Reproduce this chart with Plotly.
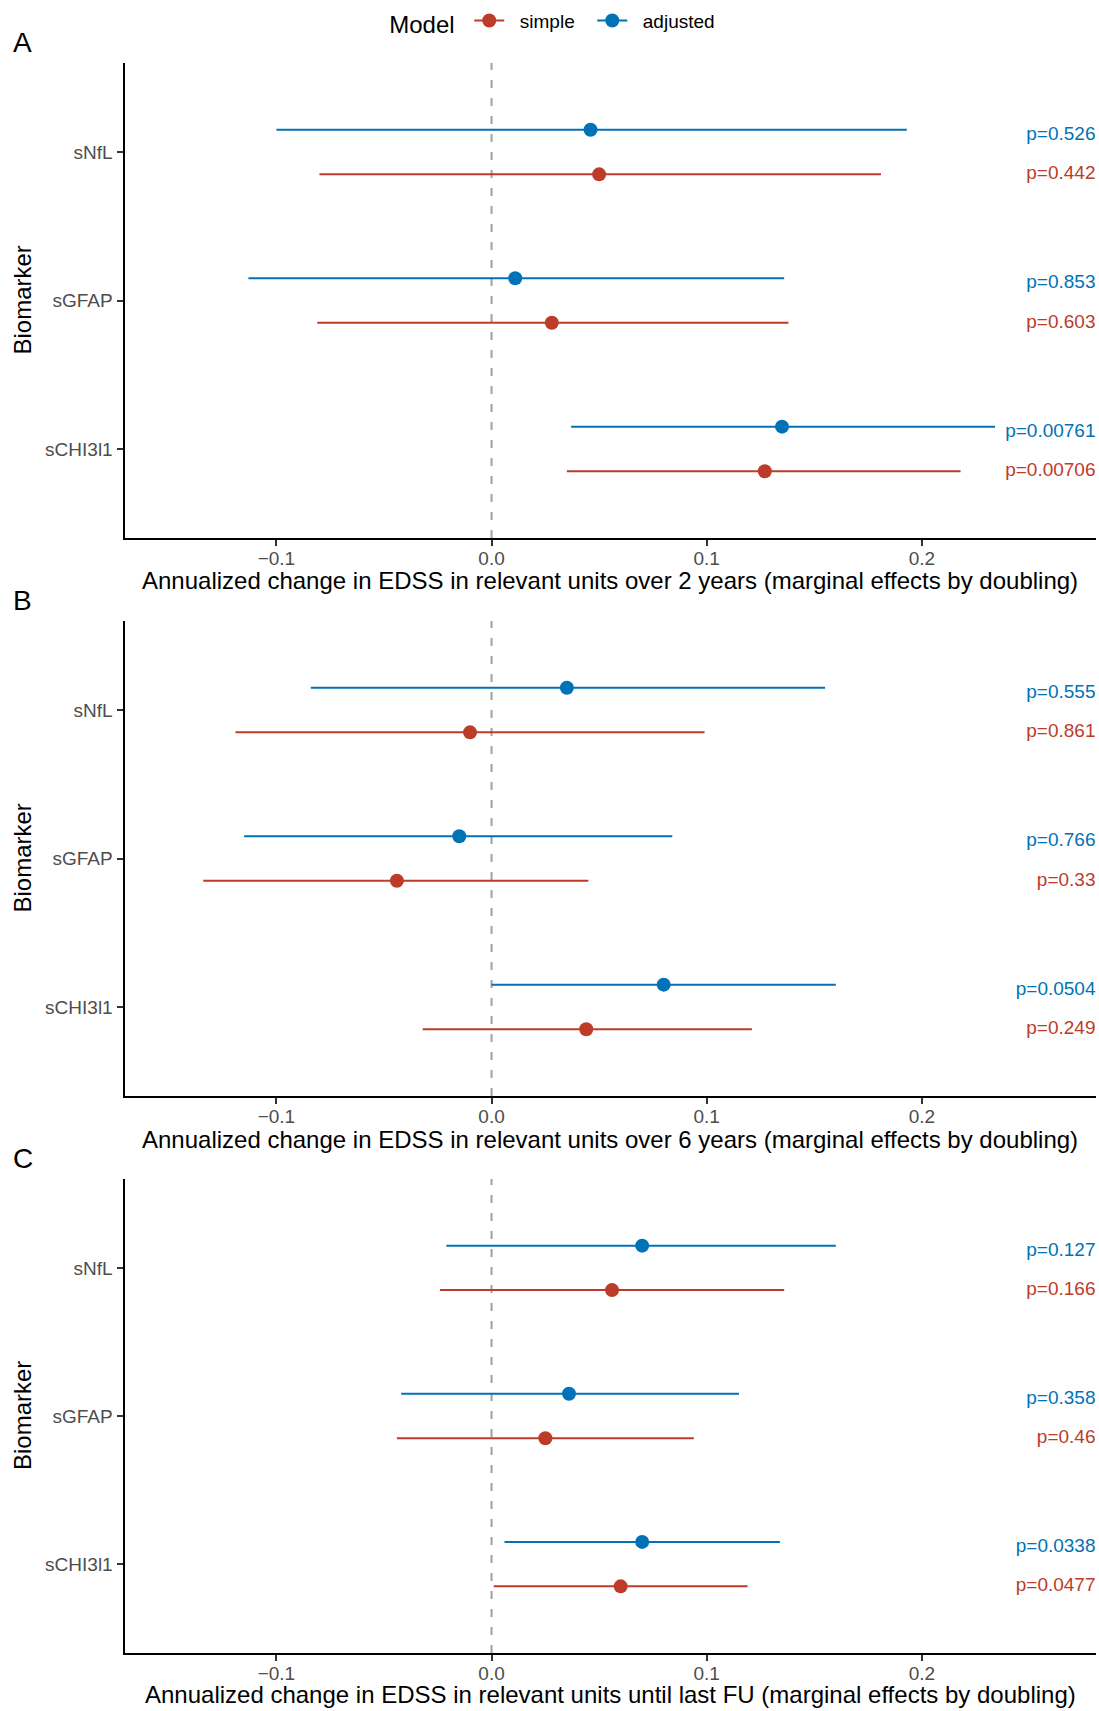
import plotly.graph_objects as go

# ---------------- data ----------------
biomarkers = ["sNfL", "sGFAP", "sCHI3l1"]

# Panel A: over 2 years
A_simple_est = [0.050, 0.028, 0.127]
A_simple_lo = [-0.080, -0.081, 0.035]
A_simple_hi = [0.181, 0.138, 0.218]
A_adj_est = [0.046, 0.011, 0.135]
A_adj_lo = [-0.100, -0.113, 0.037]
A_adj_hi = [0.193, 0.136, 0.234]
A_p_simple = ["p=0.442", "p=0.603", "p=0.00706"]
A_p_adj = ["p=0.526", "p=0.853", "p=0.00761"]

# Panel B: over 6 years
B_simple_est = [-0.010, -0.044, 0.044]
B_simple_lo = [-0.119, -0.134, -0.032]
B_simple_hi = [0.099, 0.045, 0.121]
B_adj_est = [0.035, -0.015, 0.080]
B_adj_lo = [-0.084, -0.115, 0.000]
B_adj_hi = [0.155, 0.084, 0.160]
B_p_simple = ["p=0.861", "p=0.33", "p=0.249"]
B_p_adj = ["p=0.555", "p=0.766", "p=0.0504"]

# Panel C: until last FU
C_simple_est = [0.056, 0.025, 0.060]
C_simple_lo = [-0.024, -0.044, 0.001]
C_simple_hi = [0.136, 0.094, 0.119]
C_adj_est = [0.070, 0.036, 0.070]
C_adj_lo = [-0.021, -0.042, 0.006]
C_adj_hi = [0.160, 0.115, 0.134]
C_p_simple = ["p=0.166", "p=0.46", "p=0.0477"]
C_p_adj = ["p=0.127", "p=0.358", "p=0.0338"]

x_tickvals = [-0.1, 0.0, 0.1, 0.2]
x_ticktext = ["\u22120.1", "0.0", "0.1", "0.2"]

panel_letters = ["A", "B", "C"]
x_titles = [
    "Annualized change in EDSS in relevant units over 2 years (marginal effects by doubling)",
    "Annualized change in EDSS in relevant units over 6 years (marginal effects by doubling)",
    "Annualized change in EDSS in relevant units until last FU (marginal effects by doubling)",
]
legend_names = ["simple", "adjusted"]

# ---------------- style ----------------
W, H = 1099, 1711
RED = "#BC3C29"
BLUE = "#0072B5"
FONT = "Liberation Sans, Arial, sans-serif"
X_RANGE = [-0.1706, 0.2807]
Y_RANGE = [2.6, -0.6]
DODGE = 0.15
LABEL_SHIFT = 0.035

# plot-area pixel boxes (top, bottom)
panel_px = [(63, 538), (621, 1096), (1179, 1653)]
title_offset_px = [43, 43, 41]
x_left_px, x_right_px = 124.5, 1095.5

panels = [
    (A_simple_est, A_simple_lo, A_simple_hi, A_adj_est, A_adj_lo, A_adj_hi, A_p_simple, A_p_adj),
    (B_simple_est, B_simple_lo, B_simple_hi, B_adj_est, B_adj_lo, B_adj_hi, B_p_simple, B_p_adj),
    (C_simple_est, C_simple_lo, C_simple_hi, C_adj_est, C_adj_lo, C_adj_hi, C_p_simple, C_p_adj),
]

fig = go.Figure()
layout = {}
annotations = []
shapes = []

idx = list(range(len(biomarkers)))

for k, (s_est, s_lo, s_hi, a_est, a_lo, a_hi, p_s, p_a) in enumerate(panels):
    sfx = "" if k == 0 else str(k + 1)
    xa, ya = "x" + sfx, "y" + sfx
    top, bot = panel_px[k]
    dom_y = [1 - bot / H, 1 - top / H]
    dom_x = [x_left_px / W, x_right_px / W]

    y_simple = [i + DODGE for i in idx]
    y_adj = [i - DODGE for i in idx]

    for est, lo, hi, ys, col, name, ptxt, yl in [
        (s_est, s_lo, s_hi, y_simple, RED, "simple", p_s, y_simple),
        (a_est, a_lo, a_hi, y_adj, BLUE, "adjusted", p_a, [v + LABEL_SHIFT for v in y_adj]),
    ]:
        fig.add_trace(go.Scatter(
            x=est, y=ys, xaxis=xa, yaxis=ya, mode="markers",
            marker=dict(color=col, size=14),
            error_x=dict(type="data", symmetric=False,
                         array=[h - e for h, e in zip(hi, est)],
                         arrayminus=[e - l for e, l in zip(est, lo)],
                         color=col, thickness=2, width=0),
            showlegend=False, hoverinfo="skip", name=name,
        ))
        fig.add_trace(go.Scatter(
            x=[X_RANGE[1]] * len(ptxt), y=yl, xaxis=xa, yaxis=ya, mode="text",
            text=ptxt, textposition="middle left", cliponaxis=False,
            textfont=dict(color=col, size=19, family=FONT),
            showlegend=False, hoverinfo="skip",
        ))

    layout["xaxis" + sfx] = dict(
        domain=dom_x, anchor=ya, range=X_RANGE, tickvals=x_tickvals, ticktext=x_ticktext,
        showline=True, linecolor="black", linewidth=2, ticks="outside", ticklen=6,
        tickwidth=2, tickcolor="#333333", tickfont=dict(size=19, color="#4D4D4D", family=FONT),
        ticklabelstandoff=-4,
        showgrid=False, zeroline=False, automargin=False,
    )
    layout["yaxis" + sfx] = dict(
        domain=dom_y, anchor=xa, range=Y_RANGE, tickvals=idx, ticktext=biomarkers,
        showline=True, linecolor="black", linewidth=2, ticks="outside", ticklen=6,
        tickwidth=2, tickcolor="#333333", tickfont=dict(size=19, color="#4D4D4D", family=FONT),
        showgrid=False, zeroline=False, automargin=False,
    )
    shapes.append(dict(type="line", xref=xa, yref=ya + " domain", x0=0, x1=0, y0=0, y1=1,
                       line=dict(color="#A0A0A0", width=2, dash="8px,10px"), layer="below"))
    # x-axis title
    annotations.append(dict(text=x_titles[k], xref="paper", yref="paper",
                            x=(x_left_px + x_right_px) / 2 / W,
                            y=1 - (bot + title_offset_px[k]) / H,
                            xanchor="center", yanchor="middle", showarrow=False,
                            font=dict(size=24, color="black", family=FONT)))
    # y-axis title
    annotations.append(dict(text="Biomarker", xref="paper", yref="paper",
                            x=22 / W, y=1 - (top + bot) / 2 / H, textangle=-90,
                            xanchor="center", yanchor="middle", showarrow=False,
                            font=dict(size=24, color="black", family=FONT)))
    # panel letter
    annotations.append(dict(text=panel_letters[k], xref="paper", yref="paper",
                            x=11 / W, y=1 - (top - 21) / H, xanchor="left", yanchor="middle",
                            showarrow=False, font=dict(size=28, color="black", family=FONT)))

# legend entries
for name, col in zip(legend_names, [RED, BLUE]):
    fig.add_trace(go.Scatter(x=[None], y=[None], mode="lines+markers",
                             name="\u00a0\u00a0" + name,
                             marker=dict(color=col, size=14), line=dict(color=col, width=2)))

fig.update_layout(
    width=W, height=H, margin=dict(l=0, r=0, t=0, b=0),
    plot_bgcolor="white", paper_bgcolor="white",
    font=dict(family=FONT, color="black"),
    showlegend=True,
    legend=dict(orientation="h", x=0.502, xanchor="center", y=0.999, yanchor="top",
                title=dict(text="Model ", font=dict(size=24, family=FONT)),
                font=dict(size=19, family=FONT), itemwidth=30,
                entrywidth=78, entrywidthmode="pixels", bgcolor="rgba(0,0,0,0)"),
    annotations=annotations, shapes=shapes,
    **layout,
)

fig.write_html("out.html", config={"displayModeBar": False},
               post_script="document.body.style.margin='0';")
